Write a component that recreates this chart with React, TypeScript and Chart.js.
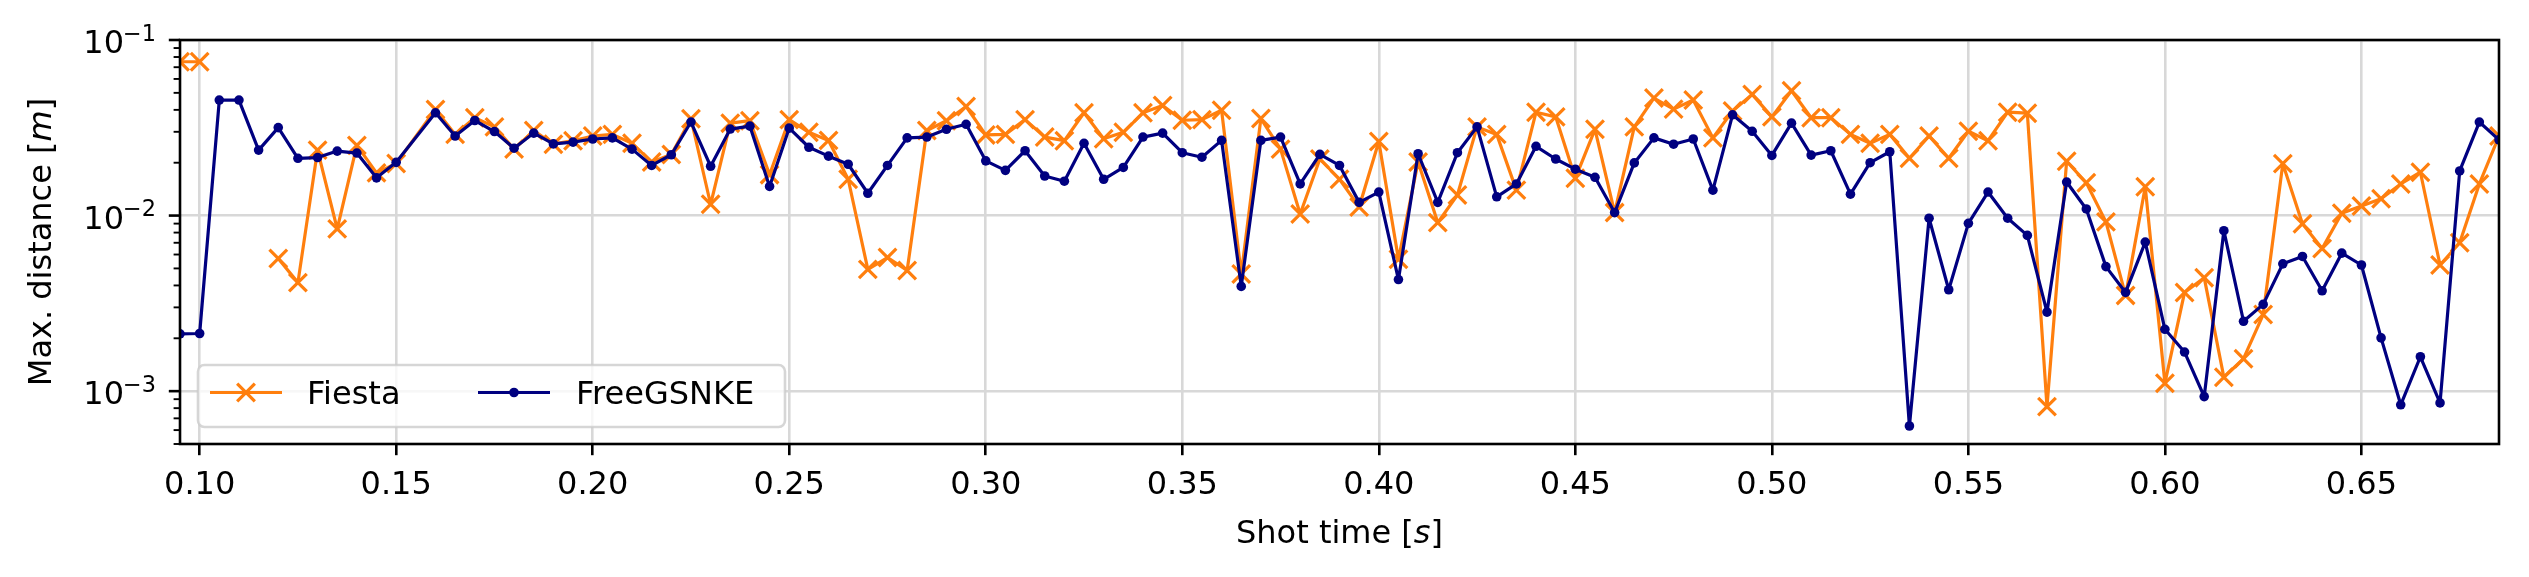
import React, { useEffect, useRef } from 'react';
import { Chart, registerables } from 'chart.js';

Chart.register(...registerables);

// ---------------- data ----------------
const times = [
  0.095, 0.1, 0.105, 0.11, 0.115, 0.12, 0.125, 0.13, 0.135, 0.14, 0.145, 0.15,
  0.16, 0.165, 0.17, 0.175, 0.18, 0.185, 0.19, 0.195, 0.2, 0.205, 0.21, 0.215,
  0.22, 0.225, 0.23, 0.235, 0.24, 0.245, 0.25, 0.255, 0.26, 0.265, 0.27, 0.275,
  0.28, 0.285, 0.29, 0.295, 0.3, 0.305, 0.31, 0.315, 0.32, 0.325, 0.33, 0.335,
  0.34, 0.345, 0.35, 0.355, 0.36, 0.365, 0.37, 0.375, 0.38, 0.385, 0.39, 0.395,
  0.4, 0.405, 0.41, 0.415, 0.42, 0.425, 0.43, 0.435, 0.44, 0.445, 0.45, 0.455,
  0.46, 0.465, 0.47, 0.475, 0.48, 0.485, 0.49, 0.495, 0.5, 0.505, 0.51, 0.515,
  0.52, 0.525, 0.53, 0.535, 0.54, 0.545, 0.55, 0.555, 0.56, 0.565, 0.57, 0.575,
  0.58, 0.585, 0.59, 0.595, 0.6, 0.605, 0.61, 0.615, 0.62, 0.625, 0.63, 0.635,
  0.64, 0.645, 0.65, 0.655, 0.66, 0.665, 0.67, 0.675, 0.68, 0.685,
];

const fiesta: (number | null)[] = [
  0.0752, 0.0752, null, null, null, 0.00569, 0.00415, 0.0236, 0.0084, 0.0251, 0.0175, 0.0198,
  0.0402, 0.029, 0.0361, 0.032, 0.0239, 0.0305, 0.0255, 0.0267, 0.0284, 0.029, 0.0258, 0.0202,
  0.0223, 0.0356, 0.0116, 0.0336, 0.0347, 0.0171, 0.0352, 0.0298, 0.0268, 0.0161, 0.00494, 0.00577,
  0.00487, 0.0305, 0.0347, 0.0418, 0.0288, 0.029, 0.0352, 0.028, 0.0267, 0.0385, 0.0274, 0.0298,
  0.0385, 0.0424, 0.0349, 0.0352, 0.0398, 0.00465, 0.0357, 0.0239, 0.0102, 0.021, 0.0161, 0.0112,
  0.0264, 0.00564, 0.0202, 0.00912, 0.0131, 0.032, 0.029, 0.01396, 0.0388, 0.0365, 0.0163, 0.031,
  0.0104, 0.032, 0.0467, 0.0404, 0.0455, 0.0277, 0.0394, 0.049, 0.0365, 0.0514, 0.0361, 0.0361,
  0.029, 0.0258, 0.029, 0.0212, 0.0284, 0.0212, 0.0302, 0.0267, 0.0388, 0.0383, 0.000816, 0.0204,
  0.01537, 0.00921, 0.00351, 0.01458, 0.00111, 0.00365, 0.00443, 0.0012, 0.00153, 0.00273, 0.01976, 0.00899,
  0.0065, 0.01031, 0.01135, 0.01248, 0.01514, 0.01766, 0.00523, 0.007, 0.01514, 0.0284,
];

const freegsnke: number[] = [
  0.00212, 0.00213, 0.0455, 0.0455, 0.0236, 0.0317, 0.0212, 0.0214, 0.0233, 0.0227, 0.0164, 0.0201,
  0.0385, 0.0284, 0.0348, 0.0301, 0.0242, 0.0295, 0.0256, 0.0262, 0.0273, 0.0277, 0.0239, 0.0193,
  0.0222, 0.0341, 0.0191, 0.0311, 0.0323, 0.01465, 0.0315, 0.0245, 0.0218, 0.0196, 0.0134, 0.0193,
  0.0277, 0.028, 0.031, 0.0331, 0.0205, 0.0181, 0.0234, 0.0168, 0.0157, 0.0258, 0.0161, 0.0188,
  0.028, 0.0295, 0.0228, 0.0215, 0.0268, 0.00395, 0.0268, 0.028, 0.01514, 0.0223, 0.0193, 0.01189,
  0.01361, 0.00432, 0.0225, 0.01189, 0.0228, 0.032, 0.01279, 0.01514, 0.0248, 0.021, 0.01837, 0.01652,
  0.0104, 0.01995, 0.0277, 0.0255, 0.0273, 0.01396, 0.0375, 0.0302, 0.022, 0.0336, 0.0221, 0.0234,
  0.01324, 0.02, 0.0231, 0.000633, 0.00966, 0.00378, 0.00903, 0.01361, 0.00966, 0.00771, 0.00282, 0.01552,
  0.01091, 0.00512, 0.00365, 0.00706, 0.00225, 0.00167, 0.000931, 0.0082, 0.0025, 0.00312, 0.00531, 0.00585,
  0.00373, 0.00611, 0.00523, 0.00201, 0.000836, 0.00157, 0.000857, 0.01795, 0.0341, 0.027,
];

const seriesLabels = ['Fiesta', 'FreeGSNKE'];
const seriesColors = ['#ff7f0e', '#000080'];

const xTickValues = [0.1, 0.15, 0.2, 0.25, 0.3, 0.35, 0.4, 0.45, 0.5, 0.55, 0.6, 0.65];
const xRange = [0.095, 0.685];
const yRange = [5e-4, 1e-1];
const yMajorTicks = [1e-3, 1e-2, 1e-1];
const yMajorExponents = ['\u22123', '\u22122', '\u22121'];
const yMinorTicks = [
  5e-4, 6e-4, 7e-4, 8e-4, 9e-4,
  2e-3, 3e-3, 4e-3, 5e-3, 6e-3, 7e-3, 8e-3, 9e-3,
  2e-2, 3e-2, 4e-2, 5e-2, 6e-2, 7e-2, 8e-2, 9e-2,
];
const xTitleParts: [string, boolean][] = [['Shot time [', false], ['s', true], [']', false]];
const yTitleParts: [string, boolean][] = [['Max. distance [', false], ['m', true], [']', false]];

const FONT = 'DejaVu Sans';
const FS = 32;

function drawParts(ctx: CanvasRenderingContext2D, parts: [string, boolean][], cx: number, baseline: number) {
  const widths = parts.map(([t, it]) => {
    ctx.font = `${it ? 'italic ' : ''}${FS}px "${FONT}"`;
    return ctx.measureText(t).width;
  });
  const total = widths.reduce((a, b) => a + b, 0);
  let x = cx - total / 2;
  ctx.textAlign = 'left';
  ctx.textBaseline = 'alphabetic';
  parts.forEach(([t, it], i) => {
    ctx.font = `${it ? 'italic ' : ''}${FS}px "${FONT}"`;
    ctx.fillText(t, x, baseline);
    x += widths[i];
  });
}

const mplPlugin = {
  id: 'mplLook',
  afterDatasetsDraw(chart: any) {
    const { ctx, chartArea: a } = chart;
    ctx.save();
    ctx.strokeStyle = '#000';
    ctx.lineWidth = 2.6;
    ctx.strokeRect(a.left, a.top, a.right - a.left, a.bottom - a.top);
    ctx.restore();
  },
  afterDraw(chart: any) {
    const { ctx, chartArea: a, scales } = chart;
    const ys = scales.y;
    ctx.save();
    ctx.fillStyle = '#000';
    ctx.strokeStyle = '#000';
    // y tick marks
    ctx.lineWidth = 1.9;
    for (const v of yMinorTicks) {
      const py = ys.getPixelForValue(v);
      ctx.beginPath();
      ctx.moveTo(a.left - 6.4, py);
      ctx.lineTo(a.left, py);
      ctx.stroke();
    }
    ctx.lineWidth = 2.6;
    for (const v of yMajorTicks) {
      const py = ys.getPixelForValue(v);
      ctx.beginPath();
      ctx.moveTo(a.left - 11.2, py);
      ctx.lineTo(a.left, py);
      ctx.stroke();
    }
    // y tick labels 10^n
    yMajorTicks.forEach((v, i) => {
      const py = ys.getPixelForValue(v);
      const right = a.left - 24;
      ctx.textAlign = 'right';
      ctx.textBaseline = 'alphabetic';
      ctx.font = `${FS * 0.7}px "${FONT}"`;
      const supW = ctx.measureText(yMajorExponents[i]).width;
      ctx.fillText(yMajorExponents[i], right, py + 0.5);
      ctx.font = `${FS}px "${FONT}"`;
      ctx.fillText('10', right - supW + 1, py + 13.3);
    });
    // axis titles
    drawParts(ctx, xTitleParts, (a.left + a.right) / 2, 543);
    ctx.save();
    ctx.translate(50.8, (a.top + a.bottom) / 2);
    ctx.rotate(-Math.PI / 2);
    drawParts(ctx, yTitleParts, 0, 0);
    ctx.restore();

    // legend
    const lx = a.left + 18;
    const lh = 62;
    const ly = a.bottom - 17 - lh;
    const lw = 587;
    const r = 6.4;
    ctx.beginPath();
    ctx.moveTo(lx + r, ly);
    ctx.lineTo(lx + lw - r, ly);
    ctx.arcTo(lx + lw, ly, lx + lw, ly + r, r);
    ctx.lineTo(lx + lw, ly + lh - r);
    ctx.arcTo(lx + lw, ly + lh, lx + lw - r, ly + lh, r);
    ctx.lineTo(lx + r, ly + lh);
    ctx.arcTo(lx, ly + lh, lx, ly + lh - r, r);
    ctx.lineTo(lx, ly + r);
    ctx.arcTo(lx, ly, lx + r, ly, r);
    ctx.closePath();
    ctx.fillStyle = 'rgba(255,255,255,0.8)';
    ctx.fill();
    ctx.strokeStyle = 'rgba(204,204,204,0.8)';
    ctx.lineWidth = 2.6;
    ctx.stroke();

    const cy = ly + 27.5;
    const entries = [
      { x0: lx + 12, tx: lx + 109 },
      { x0: lx + 280, tx: lx + 378 },
    ];
    chart.data.datasets.forEach((ds: any, i: number) => {
      const e = entries[i];
      const col = ds.borderColor;
      ctx.strokeStyle = col;
      ctx.lineWidth = 3.2;
      ctx.beginPath();
      ctx.moveTo(e.x0, cy);
      ctx.lineTo(e.x0 + 72, cy);
      ctx.stroke();
      const mx = e.x0 + 36;
      if (ds.pointStyle === 'crossRot') {
        const d = ds.pointRadius * Math.SQRT1_2;
        ctx.beginPath();
        ctx.moveTo(mx - d, cy - d);
        ctx.lineTo(mx + d, cy + d);
        ctx.moveTo(mx + d, cy - d);
        ctx.lineTo(mx - d, cy + d);
        ctx.stroke();
      } else {
        ctx.fillStyle = col;
        ctx.beginPath();
        ctx.arc(mx, cy, ds.pointRadius, 0, Math.PI * 2);
        ctx.fill();
      }
      ctx.fillStyle = '#000';
      ctx.font = `${FS}px "${FONT}"`;
      ctx.textAlign = 'left';
      ctx.textBaseline = 'alphabetic';
      ctx.fillText(ds.label, e.tx, cy + 11.5);
    });
    ctx.restore();
  },
};

export default function App() {
  const canvasRef = useRef<HTMLCanvasElement | null>(null);

  useEffect(() => {
    const canvas = canvasRef.current;
    if (!canvas) return;
    const chart = new Chart(canvas, {
      type: 'line',
      data: {
        datasets: [
          {
            label: seriesLabels[0],
            data: times.map((t, i) => ({ x: t, y: fiesta[i] })),
            borderColor: seriesColors[0],
            backgroundColor: seriesColors[0],
            borderWidth: 3.2,
            borderJoinStyle: 'round',
            pointStyle: 'crossRot',
            pointRadius: 12.5,
            pointBorderWidth: 3.2,
            pointBorderColor: seriesColors[0],
            pointBackgroundColor: seriesColors[0],
            spanGaps: false,
            tension: 0,
            order: 2,
            clip: 0,
          } as any,
          {
            label: seriesLabels[1],
            data: times.map((t, i) => ({ x: t, y: freegsnke[i] })),
            borderColor: seriesColors[1],
            backgroundColor: seriesColors[1],
            borderWidth: 3.2,
            borderJoinStyle: 'round',
            pointStyle: 'circle',
            pointRadius: 4.8,
            pointBorderWidth: 0,
            pointBorderColor: seriesColors[1],
            pointBackgroundColor: seriesColors[1],
            tension: 0,
            order: 1,
            clip: 0,
          } as any,
        ],
      },
      options: {
        animation: false,
        responsive: false,
        devicePixelRatio: 1,
        events: [],
        layout: { padding: { left: 0, top: 40, right: 30, bottom: 0 } },
        plugins: { legend: { display: false }, tooltip: { enabled: false } },
        scales: {
          x: {
            type: 'linear',
            min: xRange[0],
            max: xRange[1],
            afterBuildTicks: (s: any) => {
              s.ticks = xTickValues.map((v) => ({ value: v }));
            },
            afterFit: (s: any) => {
              s.height = 133;
            },
            border: { display: false },
            grid: {
              color: '#d8d8d8',
              lineWidth: 2.6,
              drawTicks: true,
              tickLength: 11.2,
              tickWidth: 2.6,
              tickColor: '#000',
            },
            ticks: {
              autoSkip: false,
              maxRotation: 0,
              padding: 11,
              color: '#000',
              font: { family: FONT, size: FS },
              callback: (v: any) => Number(v).toFixed(2),
            },
          },
          y: {
            type: 'logarithmic',
            min: yRange[0],
            max: yRange[1],
            afterBuildTicks: (s: any) => {
              s.ticks = [...yMinorTicks, ...yMajorTicks].sort((p, q) => p - q).map((v) => ({ value: v }));
            },
            afterFit: (s: any) => {
              s.width = 180;
            },
            border: { display: false },
            grid: {
              color: (c: any) => (yMajorTicks.some((m) => Math.abs(c.tick.value / m - 1) < 1e-6) ? '#d8d8d8' : 'rgba(0,0,0,0)'),
              lineWidth: 2.6,
              drawTicks: false,
            },
            ticks: { display: false },
          },
        },
      } as any,
      plugins: [mplPlugin],
    });
    return () => chart.destroy();
  }, []);

  return (
    <div style={{ position: 'absolute', left: 0, top: 0, width: 2529, height: 577, background: '#fff' }}>
      <canvas ref={canvasRef} width={2529} height={577} style={{ width: 2529, height: 577, display: 'block' }} />
    </div>
  );
}
